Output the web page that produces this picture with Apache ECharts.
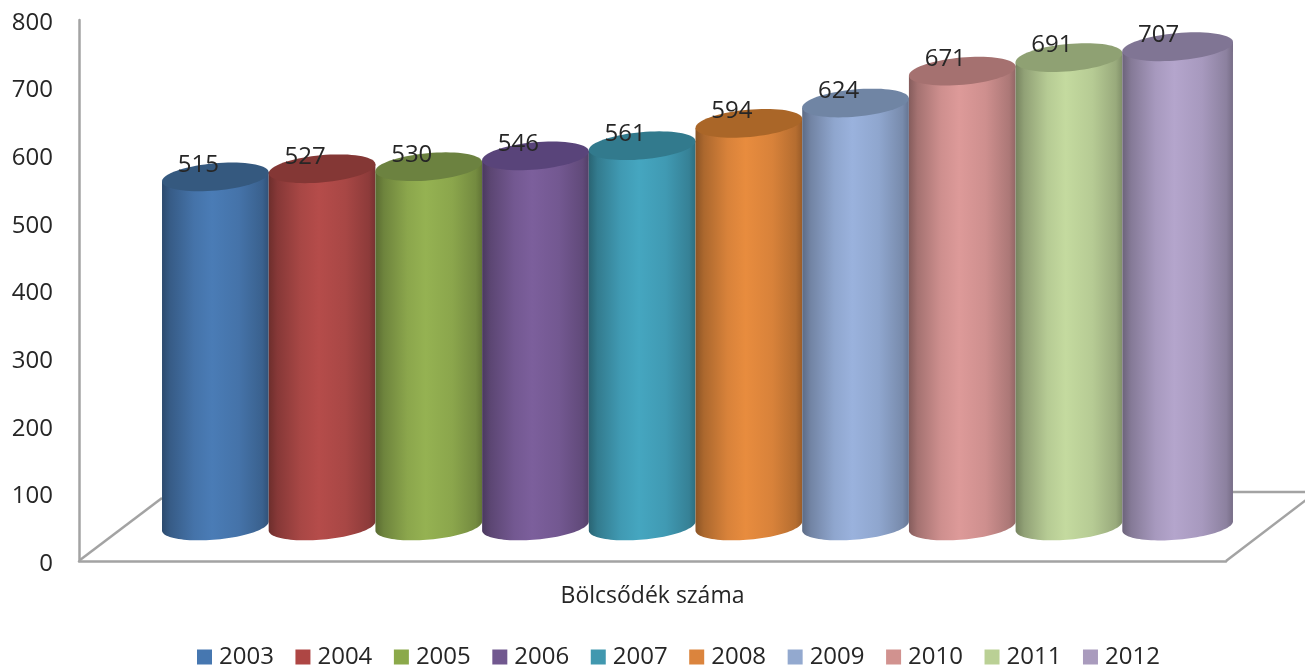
<!DOCTYPE html>
<html><head><meta charset="utf-8">
<style>html,body{margin:0;padding:0;background:#fff}#c{width:1305px;height:670px}</style>
<script src="https://cdn.jsdelivr.net/npm/echarts@6/dist/echarts.min.js"></script>
</head><body><div id="c"></div>
<script>
const categoryLabel = ['Bölcsődék száma'];
const years = ['2003','2004','2005','2006','2007','2008','2009','2010','2011','2012'];
const values = [515,527,530,546,561,594,624,671,691,707];
const sideColors = ['#4A7CB6','#B54C4A','#95B252','#7C5F9C','#45A6C0','#E88C3E','#9AB2DD','#DD9A99','#C4DA9F','#B4A5CC'];
const topColors = ['#35597F','#843735','#6C8240','#59447A','#327A8D','#AA6628','#7085A4','#A57170','#8FA173','#807594'];
const legendColors = ['#4677B0','#AE4644','#8BA94A','#71588F','#4198AF','#DB843D','#93A9CF','#D1928F','#BAD095','#A99BBD'];
const axisColor = '#A3A3A3', textColor = '#262626';
const font = '"Open Sans"';

function shade(hex, f) {
  const n = parseInt(hex.slice(1), 16);
  const c = [n >> 16 & 255, n >> 8 & 255, n & 255].map(v => Math.round(v * f));
  return 'rgb(' + c.join(',') + ')';
}
function ellipsePoint(cx, cy, rx, ry, tilt, t) {
  const x = rx * Math.cos(t), y = ry * Math.sin(t);
  return [cx + x * Math.cos(tilt) - y * Math.sin(tilt), cy + x * Math.sin(tilt) + y * Math.cos(tilt)];
}
function cylinder(colorIndex) {
  return function (params, api) {
    const top = api.coord([api.value(0), api.value(1)]);
    const base = api.coord([api.value(0), 0]);
    // the last cylinder is a little wider in the reference (perspective)
    const extra = colorIndex === years.length - 1 ? 2 : 0;
    const rx = api.size([1, 0])[0] / 2 + 0.2 + extra, ry = 13.6, tilt = -0.09;
    top[0] += extra; base[0] += extra;
    const side = sideColors[colorIndex];
    const body = [];
    for (let k = 0; k <= 48; k++) {
      const t = Math.PI - Math.PI * k / 48;
      body.push(ellipsePoint(base[0], base[1], rx, ry, tilt, t));
    }
    for (const k of [0, 1]) {
      body.push(ellipsePoint(top[0], top[1], rx, ry, tilt, k * Math.PI));
    }
    const cap = [];
    for (let k = 0; k < 72; k++) cap.push(ellipsePoint(top[0], top[1], rx, ry, tilt, k / 72 * 2 * Math.PI));
    const fill = new echarts.graphic.LinearGradient(0, 0, 1, 0, [
      { offset: 0, color: shade(side, 0.6) },
      { offset: 0.08, color: shade(side, 0.74) },
      { offset: 0.3, color: shade(side, 0.93) },
      { offset: 0.47, color: side },
      { offset: 0.72, color: shade(side, 0.93) },
      { offset: 0.94, color: shade(side, 0.78) },
      { offset: 1, color: shade(side, 0.66) }
    ]);
    return { type: 'group', children: [
      { type: 'polygon', shape: { points: body }, style: { fill: fill } },
      { type: 'polygon', shape: { points: cap }, style: { fill: topColors[colorIndex] } },
      { type: 'text', x: top[0] - 17 - extra, y: top[1] - 12, style: {
        text: String(api.value(1)), font: '24px ' + font, fill: textColor, align: 'center', verticalAlign: 'middle' } }
    ] };
  };
}
const lineStyle = { stroke: axisColor, lineWidth: 2.5, fill: 'none' };
function floorLine(x1, y1, x2, y2) {
  return { type: 'line', z: 0, shape: { x1, y1, x2, y2 }, style: lineStyle };
}
const chart = echarts.init(document.getElementById('c'), null, { renderer: 'canvas' });
chart.setOption({
  animation: false,
  backgroundColor: '#fff',
  legend: {
    data: years, left: 197, top: 645, padding: 0, itemWidth: 15, itemHeight: 15, itemGap: 21.55, icon: 'rect',
    textStyle: { fontFamily: font, fontSize: 24, color: textColor, padding: [0, 0, 0, 2] }
  },
  grid: [
    { left: 79, top: 20, width: 1147, height: 541 },
    { left: 162, top: 2, width: 1067, height: 524 }
  ],
  xAxis: [
    { gridIndex: 0, type: 'category', data: categoryLabel,
      axisLine: { lineStyle: { color: axisColor, width: 2.5 } }, axisTick: { show: false },
      axisLabel: { margin: 24, fontFamily: font, fontSize: 23, color: textColor } },
    { gridIndex: 1, type: 'category', data: years, show: false }
  ],
  yAxis: [
    { gridIndex: 0, type: 'value', min: 0, max: 800, interval: 100, splitLine: { show: false },
      axisLine: { show: true, lineStyle: { color: axisColor, width: 2.5 } }, axisTick: { show: false },
      axisLabel: { margin: 26, formatter: '{t|{value}}', rich: { t: {
        fontFamily: font, fontSize: 24, color: textColor, padding: [6, 0, 0, 0] } } } },
    { gridIndex: 1, type: 'value', min: 0, max: 773, show: false, splitLine: { show: false } }
  ],
  graphic: [
    floorLine(80, 560, 162, 498),
    floorLine(1226, 561, 1306, 500),
    floorLine(1230, 492, 1305, 492)
  ],
  series: years.map((y, i) => ({
    name: y, type: 'custom', xAxisIndex: 1, yAxisIndex: 1, clip: false, z: 2 + i,
    itemStyle: { color: legendColors[i] },
    encode: { x: 0, y: 1 },
    data: [[i, values[i]]],
    renderItem: cylinder(i)
  }))
});
</script></body></html>
